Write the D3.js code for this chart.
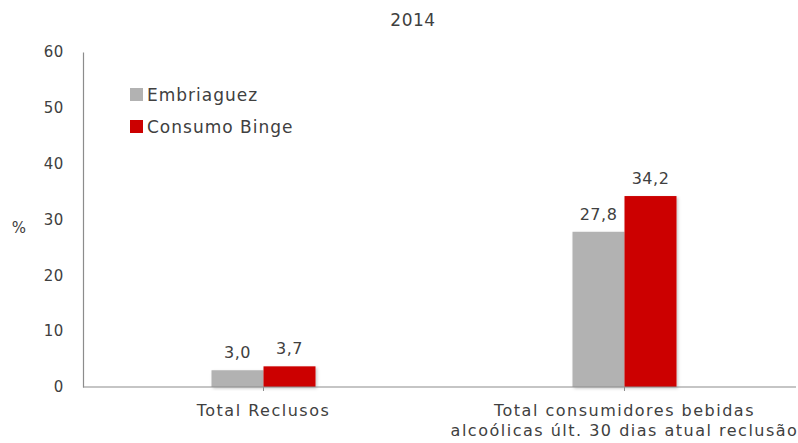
<!DOCTYPE html>
<html>
<head>
<meta charset="utf-8">
<script src="https://cdn.jsdelivr.net/npm/d3@7"></script>
<style>
  html, body { margin: 0; padding: 0; background: #fff; }
  svg { display: block; font-family: "DejaVu Sans", sans-serif; }
  text { fill: #404040; }
</style>
</head>
<body>
<svg id="chart" width="798" height="443"></svg>
<script>
// Chart data
const title = "2014";
const categories = [
  ["Total Reclusos"],
  ["Total consumidores bebidas", "alcoólicas últ. 30 dias atual reclusão"]
];
const seriesNames = ["Embriaguez", "Consumo Binge"];
const embriaguez = [3.0, 27.8];
const consumoBinge = [3.7, 34.2];
const yTicks = [0, 10, 20, 30, 40, 50, 60];
const colors = ["#b2b2b2", "#cc0000"];

const svg = d3.select("#chart");
const margin = { left: 83, right: -7, top: 52, bottom: 56 };
const W = 798, H = 443;

const x0 = d3.scaleBand()
  .domain(d3.range(categories.length))
  .range([margin.left, W - margin.right])
  .paddingInner(0).paddingOuter(0);

const barW = 52;
const y = d3.scaleLinear().domain([0, 60]).range([H - margin.bottom, margin.top]);

// Subtle bar shadow
const defs = svg.append("defs");
const f = defs.append("filter").attr("id", "shadow")
  .attr("x", "-20%").attr("y", "-20%").attr("width", "140%").attr("height", "140%");
f.append("feDropShadow").attr("dx", 1.5).attr("dy", 1.5).attr("stdDeviation", 1.5)
  .attr("flood-color", "#000").attr("flood-opacity", 0.22);

// Title
svg.append("text").attr("x", 413).attr("y", 26)
  .attr("text-anchor", "middle").style("font-size", "17px")
  .style("letter-spacing", "0.5px").attr("fill", "#222").text(title);

// Y axis
const yAxis = d3.axisLeft(y).tickValues(yTicks).tickSize(0).tickPadding(19);
const gy = svg.append("g").attr("transform", `translate(${margin.left},0)`).call(yAxis);
gy.select(".domain").attr("stroke", "#8c8c8c").attr("stroke-width", 1.2);
gy.selectAll(".tick text").style("font-size", "15px").attr("fill", "#404040")
  .style("font-family", "DejaVu Sans, sans-serif").style("letter-spacing", "0.6px");

svg.append("text").attr("x", 19).attr("y", 233)
  .attr("text-anchor", "middle").style("font-size", "15px").text("%");

// Bars
const series = [embriaguez, consumoBinge];
const groups = svg.append("g");
series.forEach((vals, s) => {
  groups.selectAll(null).data(vals).enter().append("rect")
    .attr("x", (d, i) => x0(i) + x0.bandwidth() / 2 - barW + s * barW)
    .attr("y", d => y(d))
    .attr("width", barW)
    .attr("height", d => y(0) - y(d))
    .attr("fill", colors[s])
    .attr("filter", "url(#shadow)");
  groups.selectAll(null).data(vals).enter().append("text")
    .attr("x", (d, i) => x0(i) + x0.bandwidth() / 2 - barW / 2 + s * barW)
    .attr("y", d => y(d) - 12)
    .attr("text-anchor", "middle")
    .style("font-size", "16px")
    .style("letter-spacing", "0.5px")
    .text(d => d.toFixed(1).replace(".", ","));
});

// X axis line and ticks
const baseY = y(0);
svg.append("line").attr("x1", margin.left).attr("x2", 796)
  .attr("y1", baseY).attr("y2", baseY)
  .attr("stroke", "#8c8c8c").attr("stroke-width", 1.2);
categories.forEach((lines, i) => {
  const cx = x0(i) + x0.bandwidth() / 2;
  svg.append("line").attr("x1", cx).attr("x2", cx)
    .attr("y1", baseY).attr("y2", baseY + 4)
    .attr("stroke", "#8c8c8c").attr("stroke-width", 1);
  const t = svg.append("text").attr("text-anchor", "middle")
    .style("font-size", "16px").style("letter-spacing", "1.5px");
  lines.forEach((ln, k) => {
    t.append("tspan").attr("x", cx).attr("y", baseY + 29 + k * 20).text(ln);
  });
});

// Legend
const leg = svg.append("g");
seriesNames.forEach((name, i) => {
  const ly = 88 + i * 32;
  leg.append("rect").attr("x", 130).attr("y", ly).attr("width", 13).attr("height", 13)
    .attr("fill", colors[i]);
  leg.append("text").attr("x", 147).attr("y", ly + 12.5)
    .style("font-size", "17px").style("letter-spacing", "1px").text(name);
});
</script>
</body>
</html>
